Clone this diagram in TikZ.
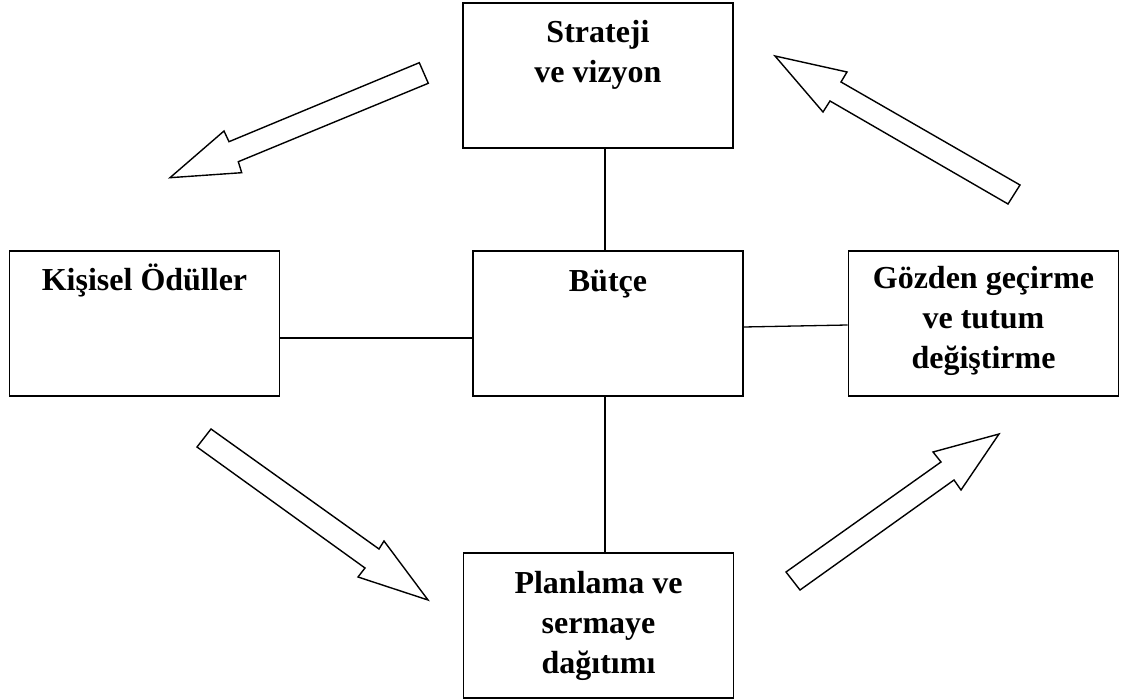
\documentclass[tikz,border=0pt]{standalone}
\usepackage{fontspec}
\setmainfont{Liberation Serif}
\begin{document}
\begin{tikzpicture}[x=1pt,y=-1pt,
  box/.style={draw, line width=1.6pt, minimum width=270pt, minimum height=145pt, inner sep=0pt},
  lbl/.style={font=\bfseries\fontsize{32}{40}\selectfont, align=center, anchor=base, inner sep=0pt},
  link/.style={line width=1.3pt},
  blockarrow/.style={draw, fill=white, line width=1.4pt, line join=miter}]
\useasboundingbox (0,0) rectangle (1135,700);
% boxes
\node[box] (strateji) at (598,75.5) {};
\node[box] (kisisel) at (144.5,323.5) {};
\node[box] (butce) at (608,323.5) {};
\node[box] (gozden) at (983.5,323.5) {};
\node[box] (planlama) at (598.5,625.5) {};
% texts (anchor at baseline of last line)
\node[lbl] (tstrateji) at (598,83) {Strateji\\ve vizyon};
\node[lbl] (tkisisel) at (144.5,291) {Kişisel Ödüller};
\node[lbl] (tbutce) at (608,292) {Bütçe};
\node[lbl] (tgozden) at (983.5,369) {Gözden geçirme\\ve tutum\\değiştirme};
\node[lbl] (tplanlama) at (598.5,673) {Planlama ve\\sermaye\\dağıtımı};
% connectors
\draw[link] ([xshift=7pt]strateji.south) -- ([xshift=-3pt]butce.north);
\draw[link] ([xshift=-3pt]butce.south) -- ([xshift=6.5pt]planlama.north);
\draw[link] ([yshift=-14.5pt]kisisel.east) -- ([yshift=-14.5pt]butce.west);
\draw[link] ([yshift=-3.5pt]butce.east) -- ([yshift=-1.5pt]gozden.west);
% block arrows
\draw[blockarrow] (419.3,62.7) -- (229,141.7) -- (224,131) -- (170,177.7) -- (241.7,172.7) -- (238.3,161.7) -- (428.3,83.3) -- cycle;
\draw[blockarrow] (775,56) -- (847,72) -- (841,82) -- (1020,185) -- (1008,204) -- (830,101) -- (823,112) -- cycle;
\draw[blockarrow] (211,429) -- (379,549) -- (384,541) -- (428,600) -- (358,577) -- (365,568) -- (197,447) -- cycle;
\draw[blockarrow] (786,572) -- (941,462) -- (933,452) -- (999,434) -- (961,490) -- (954,480) -- (800,590) -- cycle;
\end{tikzpicture}
\end{document}
